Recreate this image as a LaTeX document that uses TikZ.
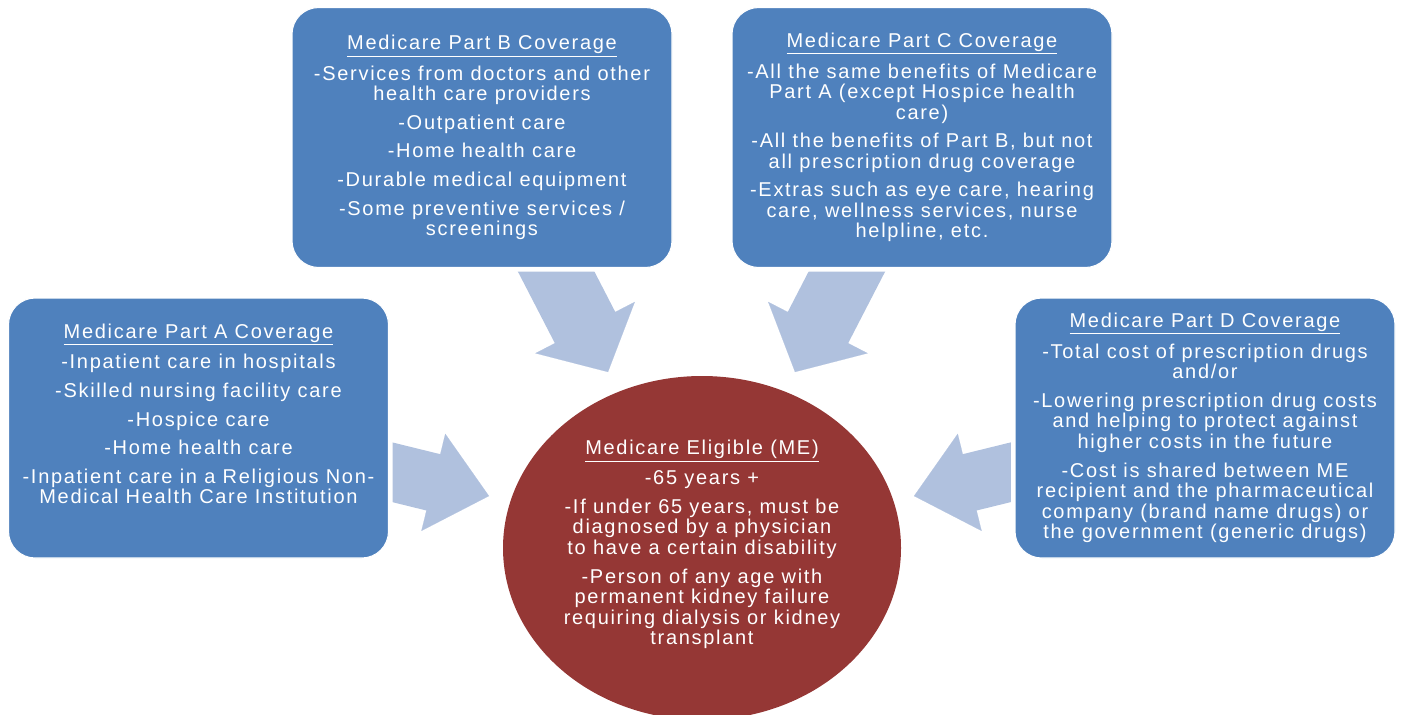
\documentclass[tikz,border=0pt]{standalone}
\usepackage{fontspec}
\setmainfont{Liberation Sans}[LetterSpace=8.5]
\usetikzlibrary{shapes.geometric,arrows.meta,backgrounds}
\definecolor{partblue}{RGB}{79,129,189}
\definecolor{pale}{RGB}{176,193,222}
\definecolor{mered}{RGB}{149,55,53}
\tikzset{
    every node/.style={font=\fontsize{15}{15.4}\selectfont, text=white, align=center},
    partbox/.style={rectangle, rounded corners=20pt, fill=partblue, draw=white, line width=0.8pt,
        minimum width=285pt, minimum height=195pt, inner sep=0pt,
        preaction={draw=white, line width=6pt}},
    elig/.style={ellipse, fill=mered, minimum width=298.5pt, minimum height=258pt, inner sep=0pt},
    sidearr/.style={pale, line width=0.1pt, -{Triangle[length=43pt, width=75pt]},
        postaction={draw, line width=43.5pt, -, shorten >=42pt}},
    toparr/.style={pale, line width=0.1pt, -{Triangle[length=37.5pt, width=84pt]},
        postaction={draw, line width=51pt, -, shorten >=36.5pt}}
}

\begin{document}
\begin{tikzpicture}[x=0.75pt, y=-0.75pt]
\clip (0,0) rectangle (1401,714);

\node[elig] at (702,548) (nME) {};
\node at (702,544.5) (nMEtxt) {\underline{Medicare Eligible (ME)}\\[6pt]
-65 years +\\[6pt]
-If under 65 years, must be\\
diagnosed by a physician\\
to have a certain disability\\[6pt]
-Person of any age with\\
permanent kidney failure\\
requiring dialysis or kidney\\
transplant};

\node[partbox] at (198.5,428) (nA) {\underline{Medicare Part A Coverage}\\[6pt]
-Inpatient care in hospitals\\[6pt]
-Skilled nursing facility care\\[6pt]
-Hospice care\\[6pt]
-Home health care\\[6pt]
-Inpatient care in a Religious Non-\\
Medical Health Care Institution\\[6pt]
\mbox{}};

\node[partbox] at (482,137.5) (nB) {\underline{Medicare Part B Coverage}\\[6pt]
-Services from doctors and other\\
health care providers\\[6pt]
-Outpatient care\\[6pt]
-Home health care\\[6pt]
-Durable medical equipment\\[6pt]
-Some preventive services /\\
screenings};

\node[partbox] at (922,137.5) (nC) {\underline{Medicare Part C Coverage}\\[6pt]
-All the same benefits of Medicare\\
Part A (except Hospice health\\
care)\\[6pt]
-All the benefits of Part B, but not\\
all prescription drug coverage\\[6pt]
-Extras such as eye care, hearing\\
care, wellness services, nurse\\
helpline, etc.};

\node[partbox] at (1205,428) (nD) {\underline{Medicare Part D Coverage}\\[6pt]
-Total cost of prescription drugs\\
and/or\\[6pt]
-Lowering prescription drug costs\\
and helping to protect against\\
higher costs in the future\\[6pt]
-Cost is shared between ME\\
recipient and the pharmaceutical\\
company (brand name drugs) or\\
the government (generic drugs)};

\coordinate (tA) at (375,468);
\coordinate (hA) at (489,496);
\coordinate (tB) at (545,250);
\coordinate (hB) at (608,372);
\coordinate (tC) at (858,250);
\coordinate (hC) at (795,372);
\coordinate (tD) at (1028,468);
\coordinate (hD) at (914,496);

\begin{scope}[on background layer]
\draw[sidearr] (tA) -- (hA);
\draw[toparr] (tB) -- (hB);
\draw[toparr] (tC) -- (hC);
\draw[sidearr] (tD) -- (hD);
\end{scope}
\end{tikzpicture}
\end{document}
